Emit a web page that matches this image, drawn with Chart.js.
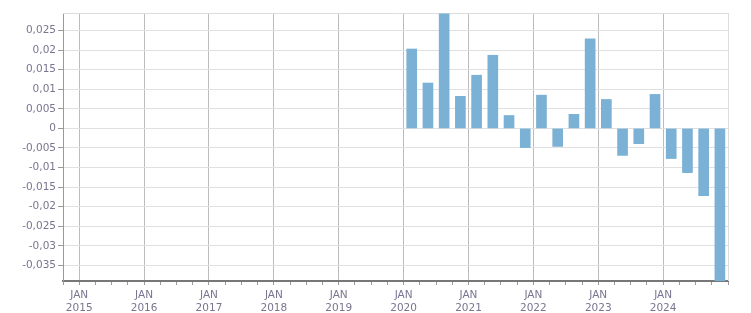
<!DOCTYPE html>
<html>
<head>
<meta charset="utf-8">
<script src="https://cdn.jsdelivr.net/npm/chart.js@4"></script>
<style>
  html, body { margin: 0; padding: 0; background: #fff; }
  #wrap { width: 751px; height: 313px; }
</style>
</head>
<body>
<div id="wrap"><canvas id="chart" width="751" height="313"></canvas></div>
<script>
// quarterly values, 2020 Q1 .. 2024 Q4
const years = [2020, 2020, 2020, 2020, 2021, 2021, 2021, 2021, 2022, 2022, 2022, 2022,
               2023, 2023, 2023, 2023, 2024, 2024, 2024, 2024];
const quarters = [1, 2, 3, 4, 1, 2, 3, 4, 1, 2, 3, 4, 1, 2, 3, 4, 1, 2, 3, 4];
const values = [0.0203, 0.0116, 0.0293, 0.0082, 0.0136, 0.0187, 0.0033, -0.0049,
                0.0085, -0.0046, 0.0036, 0.0229, 0.0074, -0.0069, -0.0039, 0.0087,
                -0.0077, -0.0113, -0.0172, -0.0390];
const yearLabels = ['2015', '2016', '2017', '2018', '2019', '2020', '2021', '2022', '2023', '2024'];
const firstYear = 2015;

const labelColor = '#7a7590';
const fontSpec = { family: 'DejaVu Sans', size: 10.5 };

// x is months from JAN 2015, bar sits mid-quarter
const points = values.map((v, i) => ({
    x: (years[i] - firstYear) * 12 + (quarters[i] - 1) * 3 + 1.5,
    y: v
}));

// light frame on top and right of the plot
const framePlugin = {
    id: 'frame',
    beforeDatasetsDraw(chart) {
        const a = chart.chartArea;
        const ctx = chart.ctx;
        ctx.save();
        ctx.strokeStyle = '#dcdcdc';
        ctx.lineWidth = 1;
        ctx.beginPath();
        ctx.moveTo(a.left, a.top + 0.5);
        ctx.lineTo(a.right + 0.5, a.top + 0.5);
        ctx.lineTo(a.right + 0.5, a.bottom);
        ctx.stroke();
        ctx.restore();
    }
};

new Chart(document.getElementById('chart'), {
    type: 'bar',
    data: {
        datasets: [{
            data: points,
            backgroundColor: '#7ab1d4',
            borderWidth: 0,
            barThickness: 10
        }]
    },
    options: {
        responsive: false,
        animation: false,
        devicePixelRatio: 1,
        layout: { padding: { top: 13, right: 23, bottom: 0, left: 0 } },
        plugins: {
            legend: { display: false },
            tooltip: { enabled: false }
        },
        scales: {
            x: {
                type: 'linear',
                offset: false,
                min: -3,
                max: 120,
                afterFit: s => { s.height = 32; },
                ticks: {
                    stepSize: 3,
                    autoSkip: false,
                    maxRotation: 0,
                    padding: 3,
                    color: labelColor,
                    font: { ...fontSpec, lineHeight: 1.3 },
                    callback: v => {
                        if (v % 12 !== 0) return '';
                        const y = yearLabels[v / 12];
                        return y ? ['JAN', y] : '';
                    }
                },
                grid: {
                    offset: false,
                    color: c => {
                        if (!c.tick) return 'transparent';
                        const v = c.tick.value;
                        if (v === 120) return '#dcdcdc';
                        return v % 12 === 0 && v >= 0 ? '#bcbcbc' : 'transparent';
                    },
                    tickColor: '#9a9a9a',
                    tickLength: 4
                },
                border: { color: '#777', width: 2 }
            },
            y: {
                min: -0.039,
                max: 0.0295,
                afterFit: s => { s.width = 63; },
                afterBuildTicks: s => {
                    s.ticks = s.ticks.filter(t => Math.abs(t.value / 0.005 - Math.round(t.value / 0.005)) < 1e-6);
                },
                ticks: {
                    stepSize: 0.005,
                    padding: 2,
                    color: labelColor,
                    font: fontSpec,
                    callback: v => String(Math.round(v * 1000) / 1000).replace('.', ',')
                },
                grid: {
                    color: '#e0e0e0',
                    tickColor: '#9a9a9a',
                    tickLength: 5
                },
                border: { color: '#999', width: 1 }
            }
        }
    },
    plugins: [framePlugin]
});
</script>
</body>
</html>
